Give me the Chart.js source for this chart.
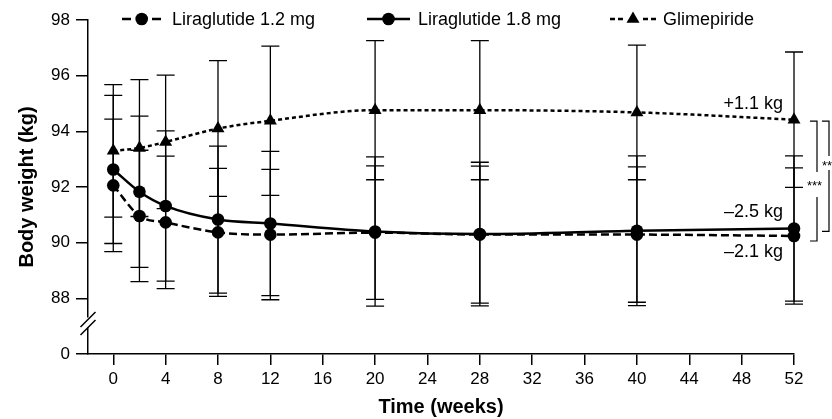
<!DOCTYPE html>
<html>
<head>
<meta charset="utf-8">
<script src="https://cdn.jsdelivr.net/npm/chart.js@4.4.1/dist/chart.umd.min.js"></script>
<style>
html, body { margin: 0; padding: 0; background: #fff; }
#wrap { width: 832px; height: 419px; }
</style>
</head>
<body>
<div id="wrap"><canvas id="bw" width="832" height="419"></canvas></div>
<script>
// data (kg, mean and SD)
const weeks = [0, 2, 4, 8, 12, 20, 28, 40, 52];
const lira12 = [92.06, 90.96, 90.73, 90.37, 90.29, 90.36, 90.29, 90.29, 90.24];
const lira12Sd = [2.38, 2.36, 2.38, 2.30, 2.34, 2.40, 2.46, 2.43, 2.45];
const lira18 = [92.63, 91.83, 91.32, 90.83, 90.69, 90.40, 90.31, 90.43, 90.51];
const lira18Sd = [2.66, 2.72, 2.70, 2.64, 2.59, 2.68, 2.58, 2.69, 2.61];
const glim = [93.30, 93.40, 93.62, 94.10, 94.38, 94.76, 94.76, 94.68, 94.42];
const glimSd = [2.38, 2.46, 2.40, 2.44, 2.68, 2.50, 2.50, 2.42, 2.43];

const xTicks = [0, 4, 8, 12, 16, 20, 24, 28, 32, 36, 40, 44, 48, 52];
const yTicks = [86, 88, 90, 92, 94, 96, 98]; // 86 stands for the broken-axis 0
const names = ['Liraglutide 1.2 mg', 'Liraglutide 1.8 mg', 'Glimepiride'];
const endLabels = ['\u20132.1 kg', '\u20132.5 kg', '+1.1 kg'];

const FONT = "'Liberation Sans', Arial, sans-serif";

function pts(vals) {
  return weeks.map((w, i) => ({ x: w, y: vals[i] }));
}

// error bars, drawn under the lines
const errorBars = {
  id: 'errorBars',
  beforeDatasetsDraw(chart) {
    const { ctx, scales: { x, y } } = chart;
    ctx.save();
    ctx.strokeStyle = '#000';
    ctx.lineWidth = 1.3;
    chart.data.datasets.forEach(ds => {
      ds.sd.forEach((s, i) => {
        const px = x.getPixelForValue(weeks[i]);
        const top = y.getPixelForValue(ds.data[i].y + s);
        const bot = y.getPixelForValue(ds.data[i].y - s);
        ctx.beginPath();
        ctx.moveTo(px, top); ctx.lineTo(px, bot);
        ctx.moveTo(px - 9, top); ctx.lineTo(px + 9, top);
        ctx.moveTo(px - 9, bot); ctx.lineTo(px + 9, bot);
        ctx.stroke();
      });
    });
    ctx.restore();
  }
};

function marker(ctx, style, cx, cy) {
  ctx.beginPath();
  if (style === 'triangle') {
    const r = 7.5;
    ctx.moveTo(cx, cy - r);
    ctx.lineTo(cx + r * 0.866, cy + r / 2);
    ctx.lineTo(cx - r * 0.866, cy + r / 2);
    ctx.closePath();
  } else {
    ctx.arc(cx, cy, 6.3, 0, Math.PI * 2);
  }
  ctx.fill();
}

// legend, end labels, brackets and the axis break
const extras = {
  id: 'extras',
  afterDraw(chart) {
    const { ctx, scales: { x, y } } = chart;
    ctx.save();
    ctx.strokeStyle = '#000';
    ctx.fillStyle = '#000';
    ctx.lineWidth = 2.5;
    ctx.font = '18px ' + FONT;
    ctx.textBaseline = 'middle';
    ctx.textAlign = 'left';

    // legend
    const ly = 19;
    // 1.2 mg  - ● -
    ctx.beginPath();
    ctx.moveTo(122, ly); ctx.lineTo(131, ly);
    ctx.moveTo(152, ly); ctx.lineTo(161, ly);
    ctx.stroke();
    marker(ctx, 'circle', 141.7, ly);
    ctx.fillText(names[0], 172, ly + 1);
    // 1.8 mg  —●—
    ctx.beginPath();
    ctx.moveTo(367, ly); ctx.lineTo(410, ly);
    ctx.stroke();
    marker(ctx, 'circle', 388.5, ly);
    ctx.fillText(names[1], 418, ly + 1);
    // glimepiride --▲--
    ctx.beginPath();
    [[610, 615], [618, 623], [643, 648], [651, 656]].forEach(s => {
      ctx.moveTo(s[0], ly); ctx.lineTo(s[1], ly);
    });
    ctx.stroke();
    marker(ctx, 'triangle', 633, ly);
    ctx.fillText(names[2], 663, ly + 1);

    // end-of-study changes
    const xEnd = x.getPixelForValue(52);
    ctx.textAlign = 'right';
    ctx.fillText(endLabels[2], xEnd - 11, y.getPixelForValue(glim[8]) - 16);
    ctx.fillText(endLabels[1], xEnd - 11, y.getPixelForValue(lira18[8]) - 16);
    ctx.fillText(endLabels[0], xEnd - 11, y.getPixelForValue(lira12[8]) + 16);

    // significance brackets
    ctx.lineWidth = 1.2;
    const gTop = y.getPixelForValue(glim[8]) + 1.5;
    const aBot = y.getPixelForValue(lira12[8]) + 5;
    const bBot = y.getPixelForValue(lira18[8]) + 3;
    ctx.beginPath();
    ctx.moveTo(810, gTop); ctx.lineTo(817, gTop); ctx.lineTo(817, 172);
    ctx.moveTo(817, 197); ctx.lineTo(817, aBot); ctx.lineTo(810, aBot);
    ctx.moveTo(822, gTop); ctx.lineTo(829, gTop); ctx.lineTo(829, 156);
    ctx.moveTo(829, 170); ctx.lineTo(829, bBot); ctx.lineTo(822, bBot);
    ctx.stroke();
    ctx.font = '13px ' + FONT;
    ctx.textAlign = 'left';
    ctx.fillText('***', 807, 186);
    ctx.fillText('**', 822, 166);

    // broken y axis between 88 and 0
    const ax = x.left;
    const c1 = y.getPixelForValue(86.95);
    const c2 = c1 - 8;
    ctx.fillStyle = '#fff';
    ctx.fillRect(ax - 3, c2 - 2, 6, 10);
    ctx.lineWidth = 1.5;
    ctx.beginPath();
    ctx.moveTo(ax - 7.5, c1 + 7.5); ctx.lineTo(ax + 7.5, c1 - 7.5);
    ctx.moveTo(ax - 7.5, c2 + 7.5); ctx.lineTo(ax + 7.5, c2 - 7.5);
    ctx.stroke();
    ctx.restore();
  }
};

const lineBase = {
  borderColor: '#000',
  backgroundColor: '#000',
  borderWidth: 2.5,
  pointBorderWidth: 0,
  cubicInterpolationMode: 'monotone',
  fill: false,
  clip: false
};

new Chart(document.getElementById('bw'), {
  type: 'line',
  data: {
    datasets: [
      Object.assign({}, lineBase, { label: names[0], data: pts(lira12), sd: lira12Sd,
        borderDash: [8, 4], pointStyle: 'circle', pointRadius: 6.3 }),
      Object.assign({}, lineBase, { label: names[1], data: pts(lira18), sd: lira18Sd,
        pointStyle: 'circle', pointRadius: 6.3 }),
      Object.assign({}, lineBase, { label: names[2], data: pts(glim), sd: glimSd,
        borderDash: [4, 3], pointStyle: 'triangle', pointRadius: 7.5 })
    ]
  },
  options: {
    responsive: false,
    animation: false,
    layout: { padding: { top: 20, right: 38, left: 0, bottom: 0 } },
    plugins: { legend: { display: false }, tooltip: { enabled: false } },
    scales: {
      x: {
        type: 'linear',
        min: -1.93,
        max: 52,
        afterBuildTicks: s => { s.ticks = xTicks.map(v => ({ value: v })); },
        afterFit: s => { s.height = 65; },
        border: { color: '#000', width: 1.5 },
        grid: { drawOnChartArea: false, drawTicks: true, tickLength: 11, color: '#000', lineWidth: 1.5 },
        ticks: { color: '#000', font: { family: FONT, size: 17 }, padding: 4, maxRotation: 0, autoSkip: false },
        title: { display: true, text: 'Time (weeks)', color: '#000',
          font: { family: FONT, size: 20, weight: 'bold' }, padding: { top: 0, bottom: 0 } }
      },
      y: {
        min: 86,
        max: 98,
        afterBuildTicks: s => { s.ticks = yTicks.map(v => ({ value: v })); },
        afterFit: s => { s.width = 88; },
        border: { color: '#000', width: 1.5 },
        grid: { drawOnChartArea: false, drawTicks: true, tickLength: 12, color: '#000', lineWidth: 1.5 },
        ticks: { color: '#000', font: { family: FONT, size: 17 }, padding: 6,
          callback: v => (v === 86 ? '0' : String(v)) },
        title: { display: true, text: 'Body weight (kg)', color: '#000',
          font: { family: FONT, size: 20, weight: 'bold' }, padding: { top: 15, bottom: 0 } }
      }
    }
  },
  plugins: [errorBars, extras]
});
</script>
</body>
</html>
